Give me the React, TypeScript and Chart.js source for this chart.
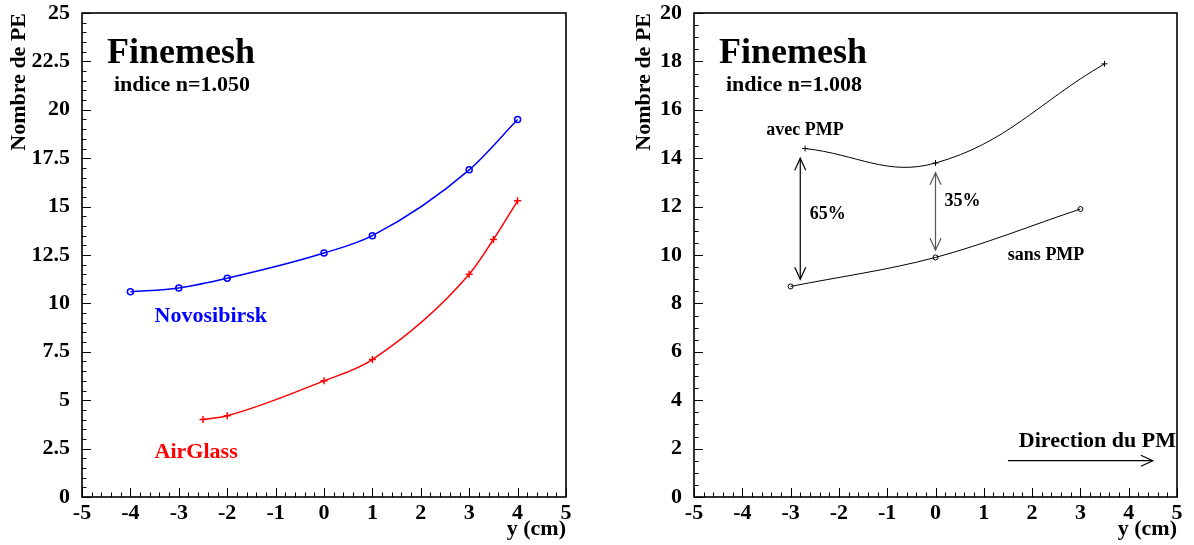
import React, { useEffect, useRef } from "react";
import { Chart, registerables } from "chart.js";

Chart.register(...registerables);

const FONT = "'Liberation Serif', 'Times New Roman', serif";

// ---- Left panel data (indice n=1.050) ----
const novoX = [-4, -3, -2, 0, 1, 3, 4];
const novoY = [10.6, 10.8, 11.3, 12.6, 13.5, 16.9, 19.5];
const airX = [-2.5, -2, 0, 1, 3, 3.5, 4];
const airY = [4.0, 4.2, 6.0, 7.1, 11.5, 13.3, 15.3];

// ---- Right panel data (indice n=1.008) ----
const avecX = [-2.7, 0, 3.5];
const avecY = [14.4, 13.8, 17.9];
const sansX = [-3, 0, 3];
const sansY = [8.7, 9.9, 11.9];

// axis ranges / ticks
const xRange = [-5, 5];
const leftYRange = [0, 25];
const rightYRange = [0, 20];

type Label = { text: string; x: number; y: number; color: string; size: number; align: CanvasTextAlign };
type VArrow = { x: number; y1: number; y2: number; color: string };
type HArrow = { x1: number; x2: number; y: number; color: string };

const leftLabels: Label[] = [
  { text: "Novosibirsk", x: -3.5, y: 9.35, color: "#0000ff", size: 22, align: "left" },
  { text: "AirGlass", x: -3.5, y: 2.3, color: "#ff0000", size: 22, align: "left" },
];
const rightLabels: Label[] = [
  { text: "avec PMP", x: -2.7, y: 15.17, color: "#000", size: 18, align: "center" },
  { text: "sans PMP", x: 2.29, y: 9.98, color: "#000", size: 18, align: "center" },
  { text: "65%", x: -2.23, y: 11.7, color: "#000", size: 18, align: "center" },
  { text: "35%", x: 0.56, y: 12.2, color: "#000", size: 18, align: "center" },
  { text: "Direction du PM", x: 4.98, y: 2.3, color: "#000", size: 22, align: "right" },
];
const rightVArrows: VArrow[] = [
  { x: -2.8, y1: 14.0, y2: 9.0, color: "#000" },
  { x: 0, y1: 13.4, y2: 10.2, color: "#555" },
];
const rightHArrows: HArrow[] = [{ x1: 1.5, x2: 4.5, y: 1.5, color: "#000" }];

type PanelCfg = {
  datasets: any[];
  yRange: number[];
  yStep: number;
  yMinor: number;
  yWidth: number;
  yTitleOffset: number;
  padRight: number;
  indice: string;
  labels: Label[];
  vArrows: VArrow[];
  hArrows: HArrow[];
};

function drawHead(ctx: CanvasRenderingContext2D, tx: number, ty: number, dx: number, dy: number) {
  const len = 12, half = 5.5;
  const n = Math.hypot(dx, dy) || 1;
  const ux = dx / n, uy = dy / n;
  const bx = tx - ux * len, by = ty - uy * len;
  ctx.beginPath();
  ctx.moveTo(bx - uy * half, by + ux * half);
  ctx.lineTo(tx, ty);
  ctx.lineTo(bx + uy * half, by - ux * half);
  ctx.stroke();
}

function makePlugin(p: PanelCfg) {
  return {
    id: "rootFrame",
    afterDraw(chart: any) {
      const ctx: CanvasRenderingContext2D = chart.ctx;
      const { left, right, top, bottom } = chart.chartArea;
      const xs = chart.scales.x;
      const ys = chart.scales.y;
      ctx.save();
      // inward ticks
      ctx.strokeStyle = "#000";
      ctx.lineWidth = 1;
      const nx = Math.round((xRange[1] - xRange[0]) / 0.2);
      for (let i = 0; i <= nx; i++) {
        const v = xRange[0] + i * 0.2;
        const px = Math.round(xs.getPixelForValue(v)) + 0.5;
        const len = i % 5 === 0 ? 9 : 4.5;
        ctx.beginPath();
        ctx.moveTo(px, bottom);
        ctx.lineTo(px, bottom - len);
        ctx.stroke();
      }
      const ny = Math.round((p.yRange[1] - p.yRange[0]) / p.yMinor);
      const per = Math.round(p.yStep / p.yMinor);
      for (let i = 0; i <= ny; i++) {
        const v = p.yRange[0] + i * p.yMinor;
        const py = Math.round(ys.getPixelForValue(v)) + 0.5;
        const len = i % per === 0 ? 9 : 4.5;
        ctx.beginPath();
        ctx.moveTo(left, py);
        ctx.lineTo(left + len, py);
        ctx.stroke();
      }
      // frame
      ctx.lineWidth = 1.6;
      ctx.strokeRect(left, top, right - left, bottom - top);

      // titles
      ctx.fillStyle = "#000";
      ctx.textAlign = "left";
      ctx.textBaseline = "alphabetic";
      ctx.font = `bold 36px ${FONT}`;
      ctx.fillText("Finemesh", left + 25, 63);
      ctx.font = `bold 22px ${FONT}`;
      ctx.fillText(p.indice, left + 32, 91);

      // axis titles
      ctx.textAlign = "right";
      ctx.fillText("y (cm)", right, 535);
      ctx.save();
      ctx.translate(left - p.yTitleOffset, top);
      ctx.rotate(-Math.PI / 2);
      ctx.textAlign = "right";
      ctx.textBaseline = "middle";
      ctx.fillText("Nombre de PE", 0, 0);
      ctx.restore();

      // labels
      ctx.textBaseline = "middle";
      for (const l of p.labels) {
        ctx.fillStyle = l.color;
        ctx.font = `bold ${l.size}px ${FONT}`;
        ctx.textAlign = l.align;
        ctx.fillText(l.text, xs.getPixelForValue(l.x), ys.getPixelForValue(l.y));
      }
      // arrows
      ctx.lineWidth = 1.2;
      for (const a of p.vArrows) {
        const px = xs.getPixelForValue(a.x);
        const y1 = ys.getPixelForValue(a.y1);
        const y2 = ys.getPixelForValue(a.y2);
        ctx.strokeStyle = a.color;
        ctx.beginPath();
        ctx.moveTo(px, y1);
        ctx.lineTo(px, y2);
        ctx.stroke();
        drawHead(ctx, px, y1, 0, y1 - y2);
        drawHead(ctx, px, y2, 0, y2 - y1);
      }
      for (const a of p.hArrows) {
        const x1 = xs.getPixelForValue(a.x1);
        const x2 = xs.getPixelForValue(a.x2);
        const py = ys.getPixelForValue(a.y);
        ctx.strokeStyle = a.color;
        ctx.beginPath();
        ctx.moveTo(x1, py);
        ctx.lineTo(x2, py);
        ctx.stroke();
        drawHead(ctx, x2, py, 1, 0);
      }
      ctx.restore();
    },
  };
}

function series(xs: number[], ys: number[], color: string, style: string, width: number, radius: number, mode: string) {
  return {
    data: xs.map((x, i) => ({ x, y: ys[i] })),
    borderColor: color,
    borderWidth: width,
    pointStyle: style,
    pointRadius: radius,
    pointBorderColor: color,
    pointBackgroundColor: "rgba(0,0,0,0)",
    pointBorderWidth: width,
    tension: 0.4,
    cubicInterpolationMode: mode,
    fill: false,
  };
}

function makeConfig(p: PanelCfg): any {
  const tickFont = { family: FONT, size: 22, weight: "bold" };
  return {
    type: "line",
    data: { datasets: p.datasets },
    plugins: [makePlugin(p)],
    options: {
      responsive: false,
      animation: false,
      devicePixelRatio: 1,
      layout: { padding: { left: 0, top: 13, right: p.padRight, bottom: 0 } },
      plugins: { legend: { display: false }, tooltip: { enabled: false } },
      scales: {
        x: {
          type: "linear",
          min: xRange[0],
          max: xRange[1],
          grid: { display: false, drawTicks: false },
          border: { display: false },
          ticks: {
            stepSize: 1,
            autoSkip: false,
            maxRotation: 0,
            padding: 3,
            color: "#000",
            font: tickFont,
            callback: (v: number) => String(v),
          },
          afterFit: (s: any) => {
            s.height = 48;
            s.paddingLeft = 0;
            s.paddingRight = 0;
          },
        },
        y: {
          type: "linear",
          min: p.yRange[0],
          max: p.yRange[1],
          grid: { display: false, drawTicks: false },
          border: { display: false },
          ticks: {
            stepSize: p.yStep,
            autoSkip: false,
            padding: 12,
            color: "#000",
            font: tickFont,
            callback: (v: number) => String(v),
          },
          afterFit: (s: any) => {
            s.width = p.yWidth;
            s.paddingTop = 0;
            s.paddingBottom = 0;
          },
        },
      },
    },
  };
}

const leftCfg: PanelCfg = {
  datasets: [
    series(novoX, novoY, "#0000ff", "circle", 1.5, 3, "monotone"),
    series(airX, airY, "#ff0000", "cross", 1.5, 3.5, "monotone"),
  ],
  yRange: leftYRange,
  yStep: 2.5,
  yMinor: 0.5,
  yWidth: 82,
  yTitleOffset: 63,
  padRight: 31,
  indice: "indice n=1.050",
  labels: leftLabels,
  vArrows: [],
  hArrows: [],
};

const rightCfg: PanelCfg = {
  datasets: [
    series(avecX, avecY, "#000000", "cross", 1, 3, "default"),
    series(sansX, sansY, "#000000", "circle", 1, 2.5, "monotone"),
  ],
  yRange: rightYRange,
  yStep: 2,
  yMinor: 0.5,
  yWidth: 97,
  yTitleOffset: 50,
  padRight: 17,
  indice: "indice n=1.008",
  labels: rightLabels,
  vArrows: rightVArrows,
  hArrows: rightHArrows,
};

function Panel({ cfg, left }: { cfg: PanelCfg; left: number }) {
  const ref = useRef<HTMLCanvasElement>(null);
  useEffect(() => {
    const chart = new Chart(ref.current as HTMLCanvasElement, makeConfig(cfg));
    return () => chart.destroy();
  }, [cfg]);
  return (
    <canvas
      ref={ref}
      width={597}
      height={545}
      style={{ position: "absolute", left, top: 0, width: 597, height: 545 }}
    />
  );
}

export default function App() {
  return (
    <div style={{ position: "fixed", left: 0, top: 0, width: 1194, height: 545, background: "#fff" }}>
      <Panel cfg={leftCfg} left={0} />
      <Panel cfg={rightCfg} left={597} />
    </div>
  );
}
